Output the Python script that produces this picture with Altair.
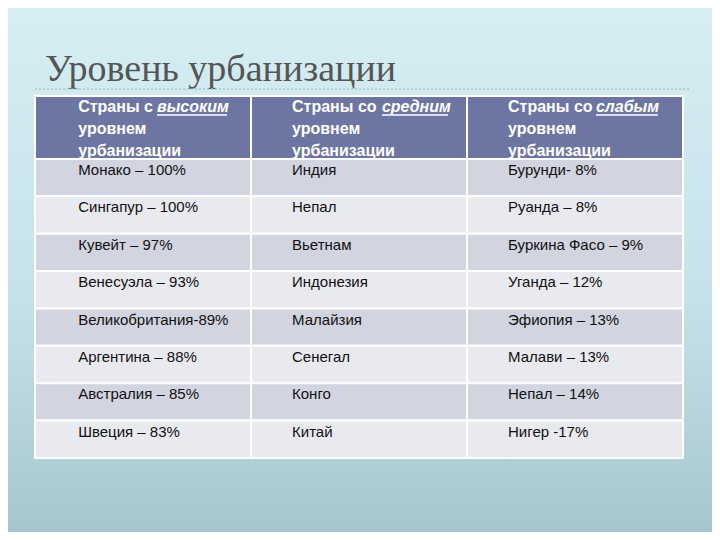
import altair as alt
import pandas as pd

# ---- data ----
title_text = "Уровень урбанизации"
header_prefix = ["Страны с ", "Страны со ", "Страны со "]
header_word = ["высоким", "средним", "слабым"]
header_line2 = ["уровнем", "уровнем", "уровнем"]
header_line3 = ["урбанизации", "урбанизации", "урбанизации"]

col_high = ["Монако – 100%", "Сингапур – 100%", "Кувейт – 97%", "Венесуэла – 93%",
            "Великобритания-89%", "Аргентина – 88%", "Австралия – 85%", "Швеция – 83%"]
col_mid = ["Индия", "Непал", "Вьетнам", "Индонезия",
           "Малайзия", "Сенегал", "Конго", "Китай"]
col_low = ["Бурунди- 8%", "Руанда – 8%", "Буркина Фасо – 9%", "Уганда – 12%",
           "Эфиопия – 13%", "Малави – 13%", "Непал – 14%", "Нигер -17%"]

# ---- layout (table units: 1 column = 1 unit wide, 1 body row = 1 unit tall) ----
W, H = 704, 524
HEAD = 1.685
NROWS = len(col_mid)
TEXT_INDENT = [0.20, 0.19, 0.19]
WORD_START = [0.565, 0.606, 0.597]
WORD_LEN = [0.324, 0.306, 0.287]
HEAD_LINES = [0.43, 1.02, 1.60]

columns = [col_high, col_mid, col_low]

cells = []
for c in range(3):
    cells.append({"x": c, "x2": c + 1, "y": 0, "y2": HEAD, "kind": "header"})
    for r in range(NROWS):
        cells.append({"x": c, "x2": c + 1, "y": HEAD + r, "y2": HEAD + r + 1,
                      "kind": "dark" if r % 2 == 0 else "light"})
cells = pd.DataFrame(cells)

body_txt = []
for c, col in enumerate(columns):
    for r, t in enumerate(col):
        body_txt.append({"x": c + TEXT_INDENT[c], "y": HEAD + r + 0.43, "t": t})
body_txt = pd.DataFrame(body_txt)

head_txt = []
for c in range(3):
    head_txt.append({"x": c + TEXT_INDENT[c], "y": HEAD_LINES[0], "t": header_prefix[c]})
    head_txt.append({"x": c + TEXT_INDENT[c], "y": HEAD_LINES[1], "t": header_line2[c]})
    head_txt.append({"x": c + TEXT_INDENT[c], "y": HEAD_LINES[2], "t": header_line3[c]})
head_txt = pd.DataFrame(head_txt)

words = pd.DataFrame({
    "x": [c + WORD_START[c] for c in range(3)],
    "x2": [c + WORD_START[c] + WORD_LEN[c] for c in range(3)],
    "y": [HEAD_LINES[0]] * 3,
    "yu": [HEAD_LINES[0] + 0.08] * 3,
    "t": header_word,
})

xs = alt.Scale(domain=[0, 3], range=[27, 675], nice=False, zero=False)
ys = alt.Scale(domain=[0, HEAD + NROWS], range=[88, 450], nice=False, zero=False)

bg = alt.Chart(pd.DataFrame({"a": [0]})).mark_rect(
    fill=alt.Gradient(gradient="linear", x1=0, x2=0, y1=0, y2=1,
                      stops=[alt.GradientStop(color="#d6eef4", offset=0),
                             alt.GradientStop(color="#c6e2e9", offset=0.55),
                             alt.GradientStop(color="#a7c6ce", offset=1)])
).encode(x=alt.value(0), x2=alt.value(W), y=alt.value(0), y2=alt.value(H))

title = alt.Chart(pd.DataFrame({"t": [title_text]})).mark_text(
    font="Liberation Serif", fontSize=38, color="#555555", align="left", baseline="alphabetic"
).encode(x=alt.value(37), y=alt.value(73), text="t:N")

dots = alt.Chart(pd.DataFrame({"a": [0]})).mark_rule(
    color="#aec3c8", strokeDash=[2, 2], strokeWidth=1.5
).encode(x=alt.value(27), x2=alt.value(682), y=alt.value(81))

rects = alt.Chart(cells).mark_rect(stroke="white", strokeWidth=2).encode(
    x=alt.X("x:Q", scale=xs, axis=None), x2="x2:Q",
    y=alt.Y("y:Q", scale=ys, axis=None), y2="y2:Q",
    color=alt.Color("kind:N", legend=None,
                    scale=alt.Scale(domain=["header", "dark", "light"],
                                    range=["#6d76a2", "#d2d4df", "#e9eaef"])),
)

htext = alt.Chart(head_txt).mark_text(
    font="Liberation Sans", fontSize=16, fontWeight="bold", color="white",
    align="left", baseline="alphabetic"
).encode(x=alt.X("x:Q", scale=xs), y=alt.Y("y:Q", scale=ys), text="t:N")

wtext = alt.Chart(words).mark_text(
    font="Liberation Sans", fontSize=16, fontWeight="bold", fontStyle="italic", color="white",
    align="left", baseline="alphabetic"
).encode(x=alt.X("x:Q", scale=xs), y=alt.Y("y:Q", scale=ys), text="t:N")

uline = alt.Chart(words).mark_rule(color="white", strokeWidth=1.5).encode(
    x=alt.X("x:Q", scale=xs), x2="x2:Q", y=alt.Y("yu:Q", scale=ys)
)

btext = alt.Chart(body_txt).mark_text(
    font="Liberation Sans", fontSize=15, color="#111111", align="left", baseline="alphabetic"
).encode(x=alt.X("x:Q", scale=xs), y=alt.Y("y:Q", scale=ys), text="t:N")

chart = alt.layer(bg, title, dots, rects, htext, wtext, uline, btext).properties(
    width=W, height=H, padding=0, autosize=alt.AutoSizeParams(type="none")
).configure_view(stroke=None).configure(background="#d6eef4")

chart.save("out.html", embed_options={"renderer": "svg", "actions": False})
